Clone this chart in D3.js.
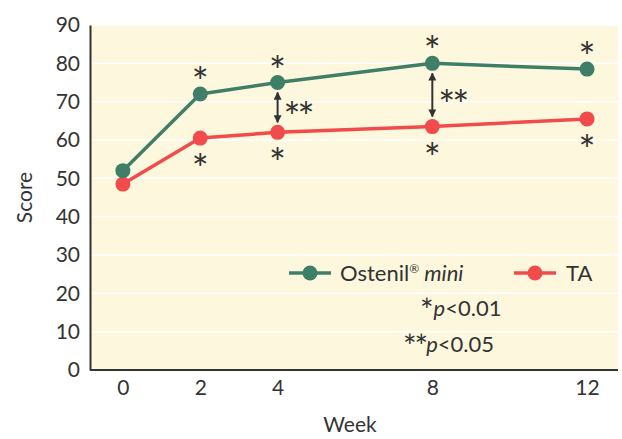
<!DOCTYPE html>
<html>
<head>
<meta charset="utf-8">
<script src="https://cdn.jsdelivr.net/npm/d3@7"></script>
<style>
  body { margin: 0; background: #fff; }
  text { font-family: "Lato", "DejaVu Sans", sans-serif; fill: #333; }
</style>
</head>
<body>
<div class="plots"></div>
<script>
var weeks = [0, 2, 4, 8, 12];
var ostenil = [52, 72, 75, 80, 78.5];
var ta = [48.5, 60.5, 62, 63.5, 65.5];
var yTicks = [0, 10, 20, 30, 40, 50, 60, 70, 80, 90];
// significance marks: which week, label
var starsTop = [2, 4, 8, 12];
var starsBottom = [2, 4, 8, 12];
var arrowWeeks = [4, 8];

var width = 622, height = 439;
var margin = {top: 25, right: 4, bottom: 69, left: 90};

var svg = d3.select(".plots").append("svg")
    .attr("width", width)
    .attr("height", height);

var x = d3.scaleLinear()
    .domain([-0.85, 12.8])
    .range([margin.left, width - margin.right]);

var y = d3.scaleLinear()
    .domain([0, 90])
    .range([height - margin.bottom, margin.top]);

var green = "#3f7f68", red = "#f24b4b";

svg.append("rect")
    .attr("x", margin.left)
    .attr("y", y(90))
    .attr("width", width - margin.right - margin.left)
    .attr("height", y(0) - y(90))
    .attr("fill", "#fdf8dd");

// white grid lines
svg.selectAll(".grid").data(yTicks.slice(1))
  .enter().append("line")
    .attr("x1", margin.left).attr("x2", width - margin.right)
    .attr("y1", function(d) { return y(d); })
    .attr("y2", function(d) { return y(d); })
    .attr("stroke", "#fff")
    .attr("stroke-width", 1.5);

var yAxis = svg.append("g")
    .attr("transform", "translate(" + margin.left + ",0)")
    .call(d3.axisLeft(y).tickValues(yTicks).tickSize(0).tickPadding(10));
yAxis.select(".domain").attr("stroke", "#333").attr("stroke-width", 2);
yAxis.selectAll("text").style("font-size", "21px").attr("fill", "#333");

var xAxis = svg.append("g")
    .attr("transform", "translate(0," + y(0) + ")")
    .call(d3.axisBottom(x).tickValues(weeks).tickSize(0).tickPadding(10));
xAxis.select(".domain").attr("stroke", "#333").attr("stroke-width", 2)
    .attr("d", "M" + margin.left + ",0H" + (width - margin.right));
xAxis.selectAll("text").style("font-size", "21px").attr("fill", "#333");

svg.append("text")
    .attr("x", 350).attr("y", 432)
    .style("text-anchor", "middle")
    .style("font-size", "21px")
    .text("Week");

svg.append("text")
    .attr("transform", "translate(32," + y(45) + ") rotate(-90)")
    .style("text-anchor", "middle")
    .style("font-size", "21px")
    .text("Score");

var line = d3.line()
    .x(function(d) { return x(d[0]); })
    .y(function(d) { return y(d[1]); });

function drawSeries(vals, color) {
  var pts = weeks.map(function(w, i) { return [w, vals[i]]; });
  svg.append("path")
      .datum(pts)
      .attr("fill", "none")
      .attr("stroke", color)
      .attr("stroke-width", 3.5)
      .attr("stroke-linejoin", "round")
      .attr("d", line);
  svg.selectAll(null).data(pts).enter().append("circle")
      .attr("cx", function(d) { return x(d[0]); })
      .attr("cy", function(d) { return y(d[1]); })
      .attr("r", 7.5)
      .attr("fill", color);
}
drawSeries(ta, red);
drawSeries(ostenil, green);

// arrows
var defs = svg.append("defs");
defs.append("marker")
    .attr("id", "ah")
    .attr("viewBox", "0 0 10 10")
    .attr("refX", 9).attr("refY", 5)
    .attr("markerWidth", 4).attr("markerHeight", 4)
    .attr("orient", "auto-start-reverse")
  .append("path")
    .attr("d", "M0,0L10,5L0,10Z")
    .attr("fill", "#333");

var starSize = "40px";

arrowWeeks.forEach(function(w) {
  var i = weeks.indexOf(w);
  svg.append("line")
      .attr("x1", x(w)).attr("x2", x(w))
      .attr("y1", y(ostenil[i]) + 10)
      .attr("y2", y(ta[i]) - 10)
      .attr("stroke", "#333")
      .attr("stroke-width", 2)
      .attr("marker-start", "url(#ah)")
      .attr("marker-end", "url(#ah)");
  svg.append("text")
      .attr("x", x(w) + 6)
      .attr("y", (y(ostenil[i]) + y(ta[i])) / 2 + 25)
      .style("font-size", starSize)
      .style("letter-spacing", "-3px")
      .text("**");
});

starsTop.forEach(function(w) {
  var i = weeks.indexOf(w);
  svg.append("text")
      .attr("x", x(w)).attr("y", y(ostenil[i]) + 3)
      .style("text-anchor", "middle")
      .style("font-size", starSize)
      .text("*");
});
starsBottom.forEach(function(w) {
  var i = weeks.indexOf(w);
  svg.append("text")
      .attr("x", x(w)).attr("y", y(ta[i]) + 46)
      .style("text-anchor", "middle")
      .style("font-size", starSize)
      .text("*");
});

// legend
var leg = svg.append("g");
function legendItem(lx, ly, color) {
  leg.append("line").attr("x1", lx).attr("x2", lx + 42)
      .attr("y1", ly).attr("y2", ly)
      .attr("stroke", color).attr("stroke-width", 3.5);
  leg.append("circle").attr("cx", lx + 21).attr("cy", ly).attr("r", 7.5).attr("fill", color);
}
legendItem(289, 273, green);
legendItem(514, 273, red);
var t1 = leg.append("text").attr("x", 340).attr("y", 281).style("font-size", "22px");
t1.append("tspan").text("Ostenil");
t1.append("tspan").text("®").style("font-size", "12px").attr("dy", -8);
t1.append("tspan").text(" mini").attr("dy", 8).style("font-style", "italic");
leg.append("text").attr("x", 566).attr("y", 281).style("font-size", "22px").text("TA");

var p1 = leg.append("text").attr("x", 420).attr("y", 316).style("font-size", "22px");
p1.append("tspan").text("*").style("font-size", "32px").attr("dy", 6);
p1.append("tspan").text("p").style("font-style", "italic").attr("dy", -6);
p1.append("tspan").text("<0.01");
var p2 = leg.append("text").attr("x", 403).attr("y", 352).style("font-size", "22px");
p2.append("tspan").text("**").style("font-size", "32px").style("letter-spacing", "-2px").attr("dy", 6);
p2.append("tspan").text("p").style("font-style", "italic").attr("dy", -6);
p2.append("tspan").text("<0.05");
</script>
</body>
</html>
